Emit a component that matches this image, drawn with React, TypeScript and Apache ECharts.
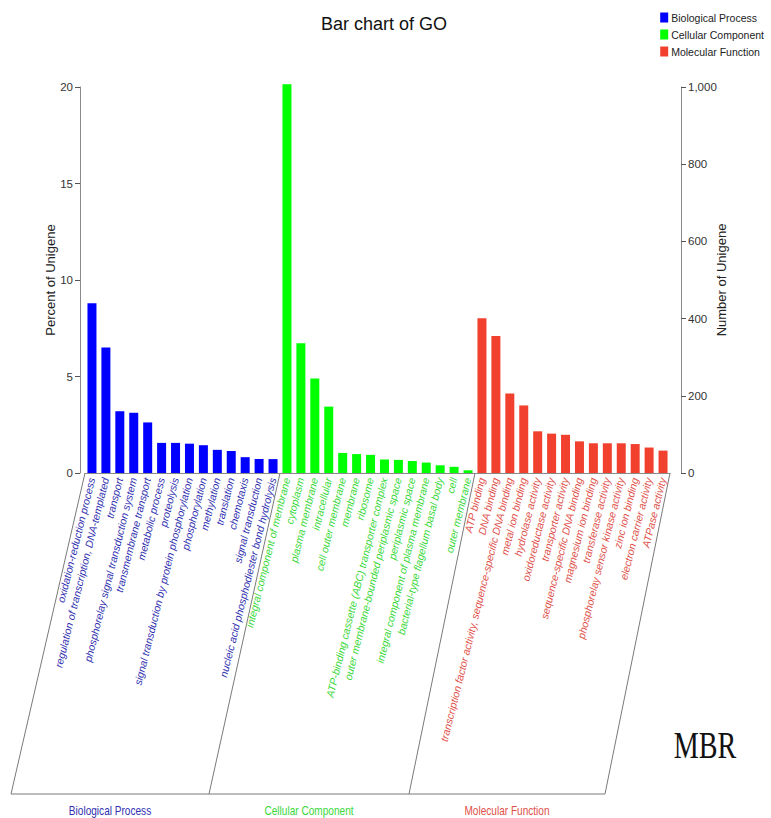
import React, { useEffect, useRef } from "react";
import * as echarts from "echarts";

const bpTerms = [
  "oxidation-reduction process",
  "regulation of transcription, DNA-templated",
  "transport",
  "phosphorelay signal transduction system",
  "transmembrane transport",
  "metabolic process",
  "proteolysis",
  "signal transduction by protein phosphorylation",
  "phosphorylation",
  "methylation",
  "translation",
  "chemotaxis",
  "signal transduction",
  "nucleic acid phosphodiester bond hydrolysis",
];
const ccTerms = [
  "integral component of membrane",
  "cytoplasm",
  "plasma membrane",
  "intracellular",
  "cell outer membrane",
  "membrane",
  "ribosome",
  "ATP-binding cassette (ABC) transporter complex",
  "outer membrane-bounded periplasmic space",
  "periplasmic space",
  "integral component of plasma membrane",
  "bacterial-type flagellum basal body",
  "cell",
  "outer membrane",
];
const mfTerms = [
  "ATP binding",
  "DNA binding",
  "transcription factor activity, sequence-specific DNA binding",
  "metal ion binding",
  "hydrolase activity",
  "oxidoreductase activity",
  "transporter activity",
  "sequence-specific DNA binding",
  "magnesium ion binding",
  "transferase activity",
  "phosphorelay sensor kinase activity",
  "zinc ion binding",
  "electron carrier activity",
  "ATPase activity",
];

// Number of unigenes per GO term (right axis); left axis shows the same as percent.
const bpCounts = [440, 325, 160, 156, 131, 78, 78, 76, 72, 60, 57, 41, 36, 36];
const ccCounts = [1007, 336, 245, 172, 52, 49, 47, 35, 34, 31, 27, 20, 16, 7];
const mfCounts = [401, 355, 206, 175, 108, 102, 99, 82, 77, 77, 77, 75, 66, 58];

const groupNames = ["Biological Process", "Cellular Component", "Molecular Function"];
const percentAxis = { min: 0, max: 20, interval: 5 };
const countAxis = { min: 0, max: 1000, interval: 200 };

const barColors = ["#0000FF", "#00FF00", "#F2402F"];
const labelColors = ["#3030B0", "#3AD83A", "#E0504A"];

const SANS = "'Liberation Sans', Arial, sans-serif";

export default function App() {
  const ref = useRef<HTMLDivElement>(null);

  useEffect(() => {
    if (!ref.current) return;
    const chart = echarts.init(ref.current, undefined, { renderer: "svg" });
    const categories = [...bpTerms, ...ccTerms, ...mfTerms];
    const groups = [bpTerms.length, ccTerms.length, mfTerms.length];
    const total = categories.length;
    const dash = (n: number) => Array.from({ length: n }, () => "-" as any);
    const seriesData = [
      [...bpCounts, ...dash(total - bpCounts.length)],
      [...dash(bpCounts.length), ...ccCounts, ...dash(mfCounts.length)],
      [...dash(total - mfCounts.length), ...mfCounts],
    ];
    const groupOf = (i: number) => (i < groups[0] ? 0 : i < groups[0] + groups[1] ? 1 : 2);

    chart.setOption({
      animation: false,
      backgroundColor: "#ffffff",
      title: {
        text: "Bar chart of GO",
        left: 379,
        textAlign: "center",
        top: 10,
        textStyle: { fontFamily: SANS, fontSize: 18, fontWeight: "normal", color: "#111" },
      },
      legend: {
        orient: "vertical",
        right: 2,
        top: 7,
        itemWidth: 8,
        itemHeight: 10,
        itemGap: 6,
        icon: "rect",
        textStyle: { fontFamily: SANS, fontSize: 10.5, color: "#222", padding: [0, 0, 0, -2] },
        data: groupNames,
      },
      grid: { left: 85, right: 101, top: 87, bottom: 345, containLabel: false },
      xAxis: {
        type: "category",
        data: categories,
        axisTick: { show: false },
        axisLine: { lineStyle: { color: "#8a8a8a", width: 1 } },
        axisLabel: {
          interval: 0,
          rotate: 76,
          margin: 5,
          fontSize: 10.5,
          fontStyle: "italic",
          fontFamily: SANS,
          color: (_v: any, i: number) => labelColors[groupOf(i)],
        },
      },
      yAxis: [
        {
          type: "value",
          position: "left",
          offset: 5,
          ...percentAxis,
          name: "Percent of Unigene",
          nameLocation: "middle",
          nameRotate: 90,
          nameGap: 23,
          nameMoveOverlap: false,
          nameTextStyle: { fontFamily: SANS, fontSize: 13, color: "#222" },
          axisLine: { show: true, lineStyle: { color: "#8a8a8a" } },
          axisTick: { show: true, length: 5, lineStyle: { color: "#555" } },
          axisLabel: { fontFamily: SANS, fontSize: 11.5, color: "#333", margin: 7 },
          splitLine: { show: false },
        },
        {
          type: "value",
          position: "right",
          offset: 11,
          ...countAxis,
          name: "Number of Unigene",
          nameLocation: "middle",
          nameRotate: 90,
          nameGap: 34,
          nameMoveOverlap: false,
          nameTextStyle: { fontFamily: SANS, fontSize: 13, color: "#222" },
          axisLine: { show: true, lineStyle: { color: "#8a8a8a" } },
          axisTick: { show: true, length: 5, lineStyle: { color: "#555" } },
          axisLabel: {
            fontFamily: SANS,
            fontSize: 11.5,
            color: "#333",
            margin: 7,
            formatter: (v: number) => v.toLocaleString("en-US"),
          },
          splitLine: { show: false },
        },
      ],
      series: groupNames.map((name, gi) => ({
        name,
        type: "bar",
        yAxisIndex: 1,
        data: seriesData[gi],
        barWidth: 9,
        barGap: "-100%",
        clip: false,
        itemStyle: { color: barColors[gi] },
      })),
    });

    // decorative slanted group frames below the axis, positioned from the axis scale
    const c0 = chart.convertToPixel({ xAxisIndex: 0 }, 0) as number;
    const c1 = chart.convertToPixel({ xAxisIndex: 0 }, 1) as number;
    const band = c1 - c0;
    const x0 = c0 - band / 2;
    const yBase = chart.convertToPixel({ yAxisIndex: 0 }, 0) as number;
    const yBottom = 794;
    const slants = [74, 71, 66, 65];
    const bounds = [0, groups[0], groups[0] + groups[1], total];
    const tops = bounds.map((b) => x0 + b * band);
    const bottoms = tops.map((t, i) => t - slants[i]);
    const frameStyle = { stroke: "#7a7a7a", lineWidth: 1 };
    const graphic: any[] = [];
    tops.forEach((t, i) => {
      graphic.push({
        type: "line",
        shape: { x1: t, y1: yBase, x2: bottoms[i], y2: yBottom },
        style: frameStyle,
        silent: true,
      });
    });
    graphic.push({
      type: "line",
      shape: { x1: bottoms[0], y1: yBottom, x2: bottoms[3], y2: yBottom },
      style: frameStyle,
      silent: true,
    });
    groupNames.forEach((g, i) => {
      graphic.push({
        type: "text",
        x: (bottoms[i] + bottoms[i + 1]) / 2,
        y: yBottom + 17,
        scaleX: 0.84,
        style: {
          text: g,
          fill: labelColors[i],
          font: `12px ${SANS}`,
          textAlign: "center",
          textVerticalAlign: "middle",
        },
      });
    });
    graphic.push({
      type: "text",
      x: 705,
      y: 745,
      scaleX: 0.74,
      style: {
        text: "MBR",
        fill: "#111",
        font: "38px 'Liberation Serif', 'Times New Roman', serif",
        textAlign: "center",
        textVerticalAlign: "middle",
      },
    });
    chart.setOption({ graphic });

    return () => chart.dispose();
  }, []);

  return (
    <div
      ref={ref}
      style={{ position: "fixed", left: 0, top: 0, width: 771, height: 818, background: "#fff" }}
    />
  );
}
